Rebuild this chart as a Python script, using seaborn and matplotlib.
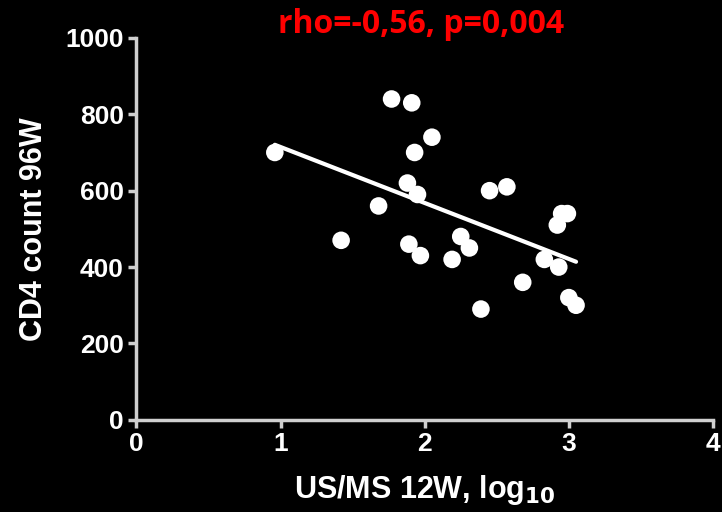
import matplotlib
matplotlib.use("Agg")
import matplotlib.pyplot as plt
import seaborn as sns
import pandas as pd

us_ms_log10 = [0.96, 1.77, 1.91, 2.05, 1.93, 1.88, 1.95, 1.68, 2.45, 2.57, 1.42, 1.89, 1.97,
               2.25, 2.31, 2.19, 2.95, 2.99, 2.92, 2.83, 2.93, 2.68, 3.00, 3.05, 2.39]
cd4_96w = [700, 840, 830, 740, 700, 620, 590, 560, 600, 610, 470, 460, 430,
           480, 450, 420, 540, 540, 510, 420, 400, 360, 320, 300, 290]
x_ticks = [0, 1, 2, 3, 4]
y_ticks = [0, 200, 400, 600, 800, 1000]
title_text = "rho=-0,56, p=0,004"

df = pd.DataFrame({"x": us_ms_log10, "y": cd4_96w})

sns.set_style("dark")
plt.rcParams['font.family'] = ['Liberation Sans', 'DejaVu Sans']

fig = plt.figure(figsize=(7.22, 5.12), dpi=100, facecolor="black")
ax = fig.add_axes([0.189, 0.18, 0.7985, 0.746])
ax.set_facecolor("black")

sns.regplot(data=df, x="x", y="y", ax=ax, ci=None, truncate=True,
            scatter_kws=dict(s=160, color="white", alpha=1, edgecolors="none", clip_on=False, zorder=3),
            line_kws=dict(color="white", lw=3, zorder=2))

ax.set_xlim(0, 4)
ax.set_ylim(0, 1000)
ax.set_xticks(x_ticks)
ax.set_yticks(y_ticks)
ax.grid(False)
for s in ["top", "right"]:
    ax.spines[s].set_visible(False)
for s in ["left", "bottom"]:
    ax.spines[s].set_color("#cfcfcf")
    ax.spines[s].set_linewidth(2.5)
ax.tick_params(axis="both", colors="#cfcfcf", width=2.5, length=6, direction="out",
               labelcolor="white", labelsize=19, left=True, bottom=True, pad=3)
for lab in ax.get_xticklabels() + ax.get_yticklabels():
    lab.set_fontweight("bold")

ax.set_xlabel("US/MS 12W, log$_{\\mathbf{10}}$", color="white", fontsize=22, fontweight="bold", labelpad=12)
ax.set_ylabel("CD4 count 96W", color="white", fontsize=22, fontweight="bold", labelpad=12)
fig.text(0.583, 0.952, title_text, color="#ff0000", fontsize=23, fontweight="bold",
         ha="center", va="center", family=["Open Sans", "DejaVu Sans"])

fig.savefig("out.png", dpi=100, facecolor="black")
